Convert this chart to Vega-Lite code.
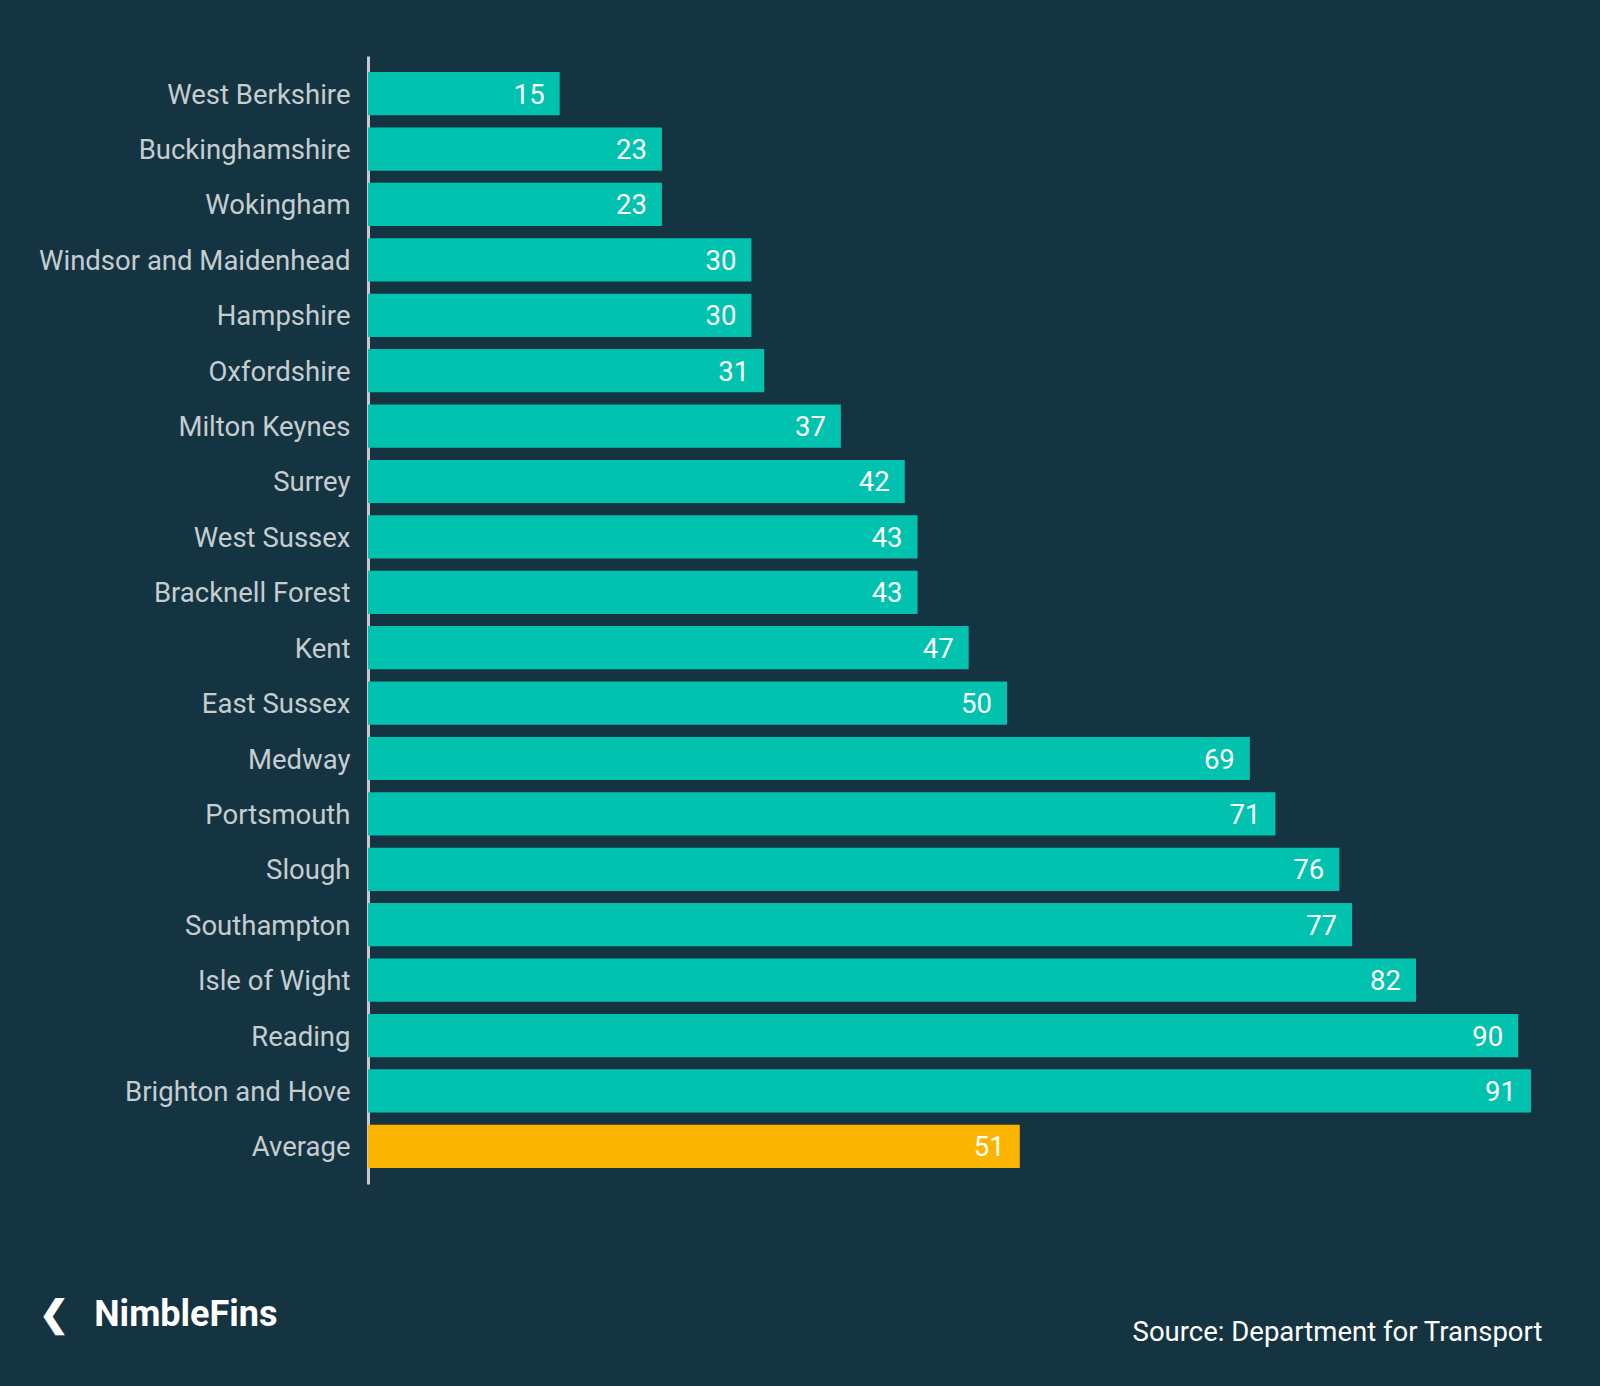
{
  "$schema": "https://vega.github.io/schema/vega-lite/v6.json",
  "autosize": {"type": "none"},
  "width": 1163,
  "height": 1128,
  "padding": {"left": 368, "top": 56, "right": 69, "bottom": 202},
  "background": "#153441",
  "config": {"view": {"stroke": null}, "font": "Roboto"},
  "data": {"values": [
    {"region": "West Berkshire", "value": 15, "type": "region"},
    {"region": "Buckinghamshire", "value": 23, "type": "region"},
    {"region": "Wokingham", "value": 23, "type": "region"},
    {"region": "Windsor and Maidenhead", "value": 30, "type": "region"},
    {"region": "Hampshire", "value": 30, "type": "region"},
    {"region": "Oxfordshire", "value": 31, "type": "region"},
    {"region": "Milton Keynes", "value": 37, "type": "region"},
    {"region": "Surrey", "value": 42, "type": "region"},
    {"region": "West Sussex", "value": 43, "type": "region"},
    {"region": "Bracknell Forest", "value": 43, "type": "region"},
    {"region": "Kent", "value": 47, "type": "region"},
    {"region": "East Sussex", "value": 50, "type": "region"},
    {"region": "Medway", "value": 69, "type": "region"},
    {"region": "Portsmouth", "value": 71, "type": "region"},
    {"region": "Slough", "value": 76, "type": "region"},
    {"region": "Southampton", "value": 77, "type": "region"},
    {"region": "Isle of Wight", "value": 82, "type": "region"},
    {"region": "Reading", "value": 90, "type": "region"},
    {"region": "Brighton and Hove", "value": 91, "type": "region"},
    {"region": "Average", "value": 51, "type": "average"}
  ]},
  "encoding": {
    "y": {
      "field": "region", "type": "nominal", "sort": null,
      "scale": {"paddingInner": 0.22, "paddingOuter": 0.29},
      "axis": {
        "title": "❮\u2002\u2009NimbleFins",
        "titleAngle": 0, "titleX": -330, "titleY": 1269,
        "titleAlign": "left", "titleBaseline": "alphabetic",
        "titleFontSize": 36, "titleFontWeight": "bold", "titleColor": "#ffffff", "titleFont": "Roboto",
        "ticks": false, "labelPadding": 18, "labelFontSize": 27.5, "labelColor": "#c5cdd1", "labelFont": "Roboto",
        "labelLimit": 0, "labelOffset": 2,
        "domain": true, "domainColor": "#c9c9c9", "domainWidth": 3
      }
    },
    "x": {
      "field": "value", "type": "quantitative",
      "scale": {"domain": [0, 91], "nice": false},
      "axis": {
        "domain": false, "ticks": false, "labels": false, "grid": false,
        "title": "Source: Department for Transport",
        "titleX": 1174, "titleY": 156, "titleAlign": "right", "titleBaseline": "alphabetic",
        "titleFontSize": 27.5, "titleFontWeight": "normal", "titleColor": "#ffffff", "titleFont": "Roboto"
      }
    }
  },
  "layer": [
    {
      "mark": {"type": "bar"},
      "encoding": {
        "color": {"field": "type", "type": "nominal", "legend": null,
          "scale": {"domain": ["region", "average"], "range": ["#00c2ae", "#fbb500"]}}
      }
    },
    {
      "mark": {"type": "text", "align": "right", "baseline": "middle", "dx": -15, "dy": 2, "fontSize": 27.5, "color": "#ffffff", "font": "Roboto"},
      "encoding": {"text": {"field": "value", "type": "quantitative"}}
    }
  ]
}
